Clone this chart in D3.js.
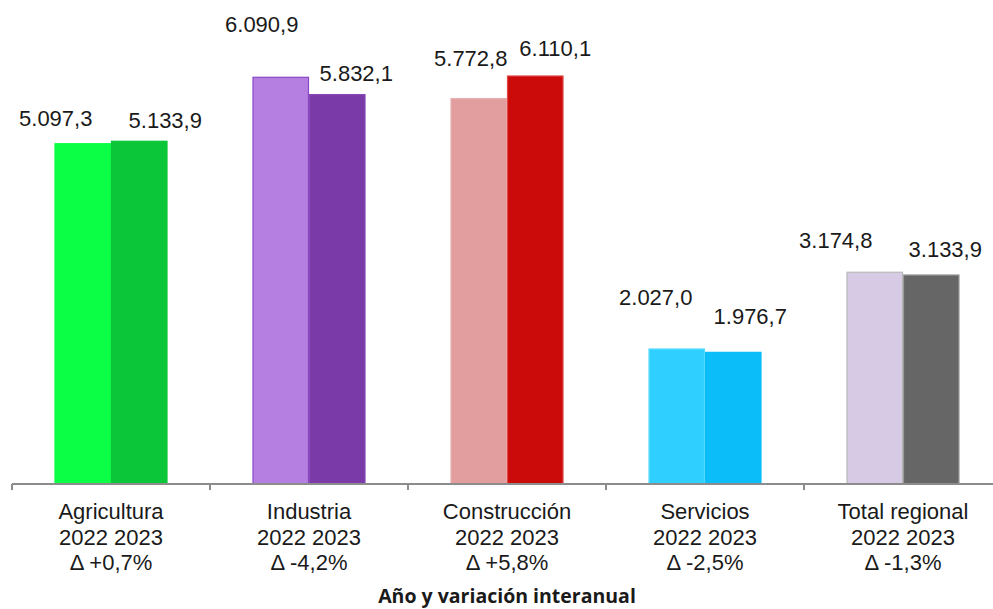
<!DOCTYPE html>
<html>
<head>
<meta charset="utf-8">
<script src="https://cdn.jsdelivr.net/npm/d3@7"></script>
<style>
  html, body { margin: 0; padding: 0; background: #fff; }
  svg { display: block; }
</style>
</head>
<body>
<svg id="chart" width="993" height="609"></svg>
<script>
// ---- data ----
const categories = ["Agricultura", "Industria", "Construcción", "Servicios", "Total regional"];
const years = ["2022", "2023"];
const values2022 = [5097.3, 6090.9, 5772.8, 2027.0, 3174.8];
const values2023 = [5133.9, 5832.1, 6110.1, 1976.7, 3133.9];
const variation = ["+0,7%", "-4,2%", "+5,8%", "-2,5%", "-1,3%"];
const axisTitle = "Año y variación interanual";

// ---- styling / layout (not data) ----
const fill2022 = ["#0aff45", "#b47fe0", "#e29e9e", "#2fd0ff", "#d7cae4"];
const fill2023 = ["#0bc638", "#7a3aa8", "#cb0a0a", "#0bbdf9", "#666666"];
const stroke2022 = ["#0aff45", "#8a47c6", "#e8b0b0", "#5cdcff", "#b9b9b9"];
const stroke2023 = ["#0bc638", "#8a4ab8", "#e04848", "#0bbdf9", "#9a9a9a"];
// manual label nudges (dx from bar centre, dy from bar top to text centre)
const nudgeDx2022 = [-27, -19, -8, -21, -39];
const nudgeDy2022 = [-25, -52, -40, -51, -31];
const nudgeDx2023 = [26, 19, 20, 17, 14];
const nudgeDy2023 = [-20.5, -20.5, -27.5, -36, -25];

const svg = d3.select("#chart");
const baseY = 484;

const x = d3.scaleBand().domain(categories).range([12, 1002]).padding(0);
const xi = d3.scaleBand().domain(years).range([0, x.bandwidth()])
  .paddingInner(0).paddingOuter(0.752);
const y = d3.scaleLinear().domain([0, 7000]).range([baseY, 16]);

const fmt = v => {
  const s = v.toFixed(1).replace(".", ",");
  const [ip, dp] = s.split(",");
  return ip.replace(/\B(?=(\d{3})+(?!\d))/g, ".") + "," + dp;
};

const rows = categories.map((c, i) => ({
  cat: c, i,
  bars: [
    { year: "2022", v: values2022[i], fill: fill2022[i], stroke: stroke2022[i], dx: nudgeDx2022[i], dy: nudgeDy2022[i] },
    { year: "2023", v: values2023[i], fill: fill2023[i], stroke: stroke2023[i], dx: nudgeDx2023[i], dy: nudgeDy2023[i] }
  ]
}));

const g = svg.append("g");
const groups = g.selectAll("g.cat").data(rows).join("g")
  .attr("class", "cat")
  .attr("transform", d => `translate(${x(d.cat)},0)`);

groups.selectAll("rect").data(d => d.bars).join("rect")
  .attr("x", d => xi(d.year) + 0.5)
  .attr("y", d => y(d.v) + 0.5)
  .attr("width", xi.bandwidth() - 1)
  .attr("height", d => baseY - y(d.v) - 0.5)
  .attr("fill", d => d.fill)
  .attr("stroke", d => d.stroke)
  .attr("stroke-width", 1.2);

groups.selectAll("text.val").data(d => d.bars).join("text")
  .attr("class", "val")
  .attr("x", d => xi(d.year) + xi.bandwidth() / 2 + d.dx)
  .attr("y", d => y(d.v) + d.dy)
  .attr("dy", "0.35em")
  .attr("text-anchor", "middle")
  .attr("font-family", "'Liberation Sans', Arial, sans-serif")
  .attr("font-size", 22)
  .attr("fill", "#1a1a1a")
  .text(d => fmt(d.v));

// axis
const axisG = svg.append("g").attr("transform", `translate(0,${baseY})`);
axisG.append("line")
  .attr("x1", 12).attr("x2", 993).attr("y1", 0).attr("y2", 0)
  .attr("stroke", "#8c8c8c").attr("stroke-width", 2);
const tickXs = categories.map(c => x(c)).concat([x.range()[1]]);
axisG.selectAll("line.tick").data(tickXs).join("line")
  .attr("class", "tick")
  .attr("x1", d => d).attr("x2", d => d)
  .attr("y1", 0).attr("y2", 6)
  .attr("stroke", "#8c8c8c").attr("stroke-width", 2);

// category labels
const lab = svg.append("g").selectAll("text.cat").data(rows).join("text")
  .attr("class", "cat")
  .attr("text-anchor", "middle")
  .attr("font-family", "'Liberation Sans', Arial, sans-serif")
  .attr("font-size", 22)
  .attr("fill", "#1a1a1a");
lab.append("tspan").attr("x", d => x(d.cat) + x.bandwidth() / 2).attr("y", 519).text(d => d.cat);
lab.append("tspan").attr("x", d => x(d.cat) + x.bandwidth() / 2).attr("y", 544.5).text(years.join(" "));
lab.append("tspan").attr("x", d => x(d.cat) + x.bandwidth() / 2).attr("y", 570).text(d => "\u0394 " + variation[d.i]);

// axis title
svg.append("text")
  .attr("x", (x.range()[0] + x.range()[1]) / 2)
  .attr("y", 603)
  .attr("text-anchor", "middle")
  .attr("font-family", "'Open Sans', sans-serif")
  .attr("font-weight", "bold")
  .attr("font-size", 19.5)
  .attr("fill", "#1a1a1a")
  .text(axisTitle);
</script>
</body>
</html>
